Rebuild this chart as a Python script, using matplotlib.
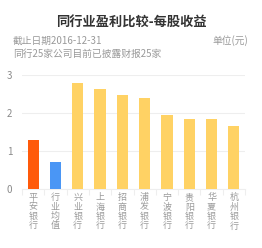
import matplotlib.pyplot as plt

plt.rcParams['font.family'] = ['Noto Sans CJK SC', 'DejaVu Sans']

# data
banks = ['平安银行', '行业均值', '兴业银行', '上海银行', '招商银行',
         '浦发银行', '宁波银行', '贵阳银行', '华夏银行', '杭州银行']
eps = [1.29, 0.72, 2.78, 2.62, 2.47, 2.40, 1.95, 1.85, 1.83, 1.67]
colors = ['#FF5A0A', '#4A96F5'] + ['#FFD264'] * 8
yticks = [0, 1, 2, 3]

fig = plt.figure(figsize=(2.62, 2.48), dpi=100)
ax = fig.add_axes([22 / 262, 1 - 189 / 248, 223 / 262, 114 / 248])

x = list(range(len(banks)))
ax.bar(x, eps, width=0.5, color=colors, zorder=3)

ax.set_xlim(-0.5, len(banks) - 0.5)
ax.set_ylim(0, 3)
ax.set_yticks(yticks)
ax.set_yticklabels([str(v) for v in yticks], color='#8A8A8A', fontsize=7)
ax.grid(axis='y', color='#EEEEEE', linewidth=0.8, zorder=0)
ax.tick_params(axis='y', length=0, pad=7)

# vertical labels, one character per line
ax.set_xticks(x)
ax.set_xticklabels(['\n'.join(b) for b in banks], color='#9A9A9A',
                   fontsize=6.5, linespacing=1.05, va='top')
ax.tick_params(axis='x', length=0, pad=3)
ax.set_xticks([i - 0.5 for i in range(len(banks) + 1)], minor=True)
ax.tick_params(axis='x', which='minor', length=4, color='#EEEEEE', width=0.8)

for s in ['top', 'right', 'left']:
    ax.spines[s].set_visible(False)
ax.spines['bottom'].set_color('#EEEEEE')
ax.spines['bottom'].set_linewidth(0.8)

fig.text(0.5, 1 - 23 / 248, '同行业盈利比较-每股收益', ha='center', va='center',
         fontsize=9.5, fontweight='bold', color='#333333')
fig.text(13 / 262, 1 - 41 / 248, '截止日期2016-12-31', ha='left', va='center',
         fontsize=7, color='#999999')
fig.text(248 / 262, 1 - 41 / 248, '单位(元)', ha='right', va='center',
         fontsize=7, color='#999999')
fig.text(13 / 262, 1 - 54 / 248, '同行25家公司目前已披露财报25家', ha='left', va='center',
         fontsize=7, color='#999999')

fig.savefig('out.png', dpi=100)
